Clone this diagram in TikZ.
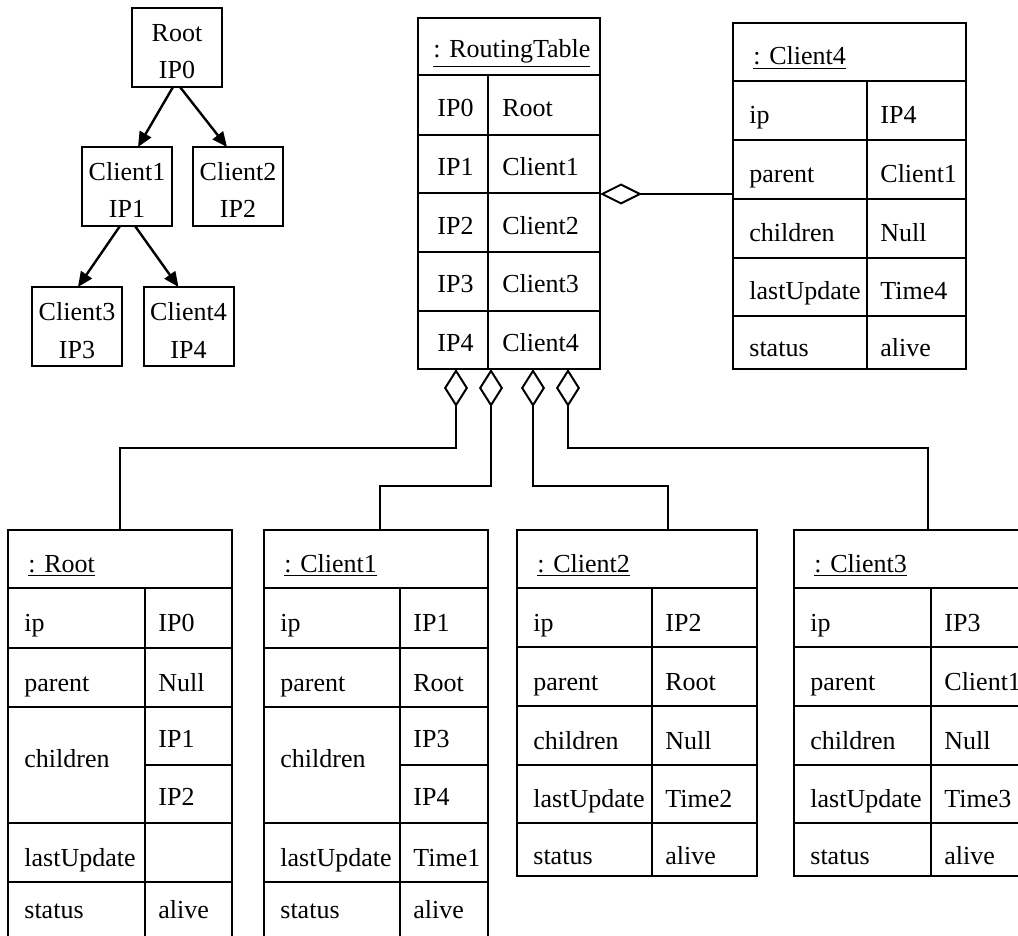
\documentclass[tikz,border=0pt]{standalone}
\usepackage{fontspec}
\setmainfont{Liberation Serif}
\usetikzlibrary{arrows.meta,calc}

\tikzset{
  txt/.style={anchor=base west, inner sep=0pt, font=\fontsize{13}{15}\selectfont},
  ctxt/.style={anchor=base, inner sep=0pt, font=\fontsize{13}{15}\selectfont},
  frame/.style={draw, line width=0.8pt, anchor=north west, inner sep=0pt, outer sep=0pt},
  rule/.style={line width=0.8pt},
  treebox/.style={draw, line width=1pt, minimum width=45pt, minimum height=39.5pt,
                  inner sep=0pt, outer sep=0pt},
  treearrow/.style={line width=1.2pt, -{Triangle[length=7.5pt,width=6.5pt]}},
  aggv/.style={line width=0.8pt, {Diamond[open,length=19pt,width=12pt,line width=1pt]}-},
  aggh/.style={line width=0.8pt, {Diamond[open,length=21pt,width=10.5pt,line width=1pt]}-},
}

% object with five one-line attributes
% #1 name, #2 left, #3 divider, #4 right, #5 top, #6 title, #7 ip, #8 parent, #9 time
\newcommand\simpleobj[9]{%
  \begin{scope}[shift={(#2,#5)}]
    \pgfmathsetmacro\ww{#4-#2}\pgfmathsetmacro\dd{#3-#2}
    \node[frame, minimum width=\ww*0.5pt, minimum height=173pt] (#1) at (0,0) {};
    \foreach \yy in {58,117,176,235,293} \draw[rule] (0,\yy) -- (\ww,\yy);
    \draw[rule] (\dd,58) -- (\dd,346);
    \node[txt] at (20,42) {\underline{#6}};
    \node[txt] at (16,101) {ip};          \node[txt] at (\dd+13,101) {#7};
    \node[txt] at (16,160) {parent};      \node[txt] at (\dd+13,160) {#8};
    \node[txt] at (16,219) {children};    \node[txt] at (\dd+13,219) {Null};
    \node[txt] at (16,277) {lastUpdate};  \node[txt] at (\dd+13,277) {#9};
    \node[txt] at (16,334) {status};      \node[txt] at (\dd+13,334) {alive};
  \end{scope}}

% object whose children attribute holds two entries
% #1 name, #2 left, #3 divider, #4 right, #5 top, #6 title, #7 ip, #8 parent, #9 first child
\newcommand\splitobj[9]{%
  \begin{scope}[shift={(#2,#5)}]
    \pgfmathsetmacro\ww{#4-#2}\pgfmathsetmacro\dd{#3-#2}
    \node[frame, minimum width=\ww*0.5pt, minimum height=203.5pt] (#1) at (0,0) {};
    \foreach \yy in {58,118,177,293,352} \draw[rule] (0,\yy) -- (\ww,\yy);
    \draw[rule] (\dd,235) -- (\ww,235);
    \draw[rule] (\dd,58) -- (\dd,407);
    \node[txt] at (20,42) {\underline{#6}};
    \node[txt] at (16,101) {ip};          \node[txt] at (\dd+13,101) {#7};
    \node[txt] at (16,161) {parent};      \node[txt] at (\dd+13,161) {#8};
    \node[txt] at (16,237) {children};    \node[txt] at (\dd+13,217) {#9};
    \node[txt] at (16,336) {lastUpdate};
    \node[txt] at (16,388) {status};      \node[txt] at (\dd+13,388) {alive};
  \end{scope}}

\begin{document}
\begin{tikzpicture}[x=0.5pt,y=-0.5pt]
  \useasboundingbox (0,0) rectangle (1018,936);
  \clip (0,0) rectangle (1018,936);

  % ---- tree of clients ----
  \node[treebox] (t0) at (177,47.5) {};
  \node[treebox] (t1) at (127,186.5) {};
  \node[treebox] (t2) at (238,186.5) {};
  \node[treebox] (t3) at (77,326.5) {};
  \node[treebox] (t4) at (188.5,326.5) {};
  \foreach \n/\a/\b in {t0/Root/IP0, t1/Client1/IP1, t2/Client2/IP2,
                        t3/Client3/IP3, t4/Client4/IP4} {
    \node[ctxt] (\n-name) at ($(\n.north)+(0,34)$) {\a};
    \node[ctxt] (\n-ip)   at ($(\n.north)+(0,71)$) {\b};
  }
  \draw[treearrow] ($(t0.south)+(-4,0)$) -- ($(t1.north)+(11,0)$);
  \draw[treearrow] ($(t0.south)+(3,0)$)  -- ($(t2.north)+(-11,0)$);
  \draw[treearrow] ($(t1.south)+(-7,0)$) -- ($(t3.north)+(1,0)$);
  \draw[treearrow] ($(t1.south)+(8,0)$)  -- ($(t4.north)+(-10,0)$);

  % ---- routing table ----
  \node[frame, minimum width=91pt, minimum height=175.5pt] (rt) at (418,18) {};
  \foreach \yy in {75,135,193,252,311} \draw[rule] (418,\yy) -- (600,\yy);
  \draw[rule] (488,75) -- (488,369);
  \node[txt] (rt-title) at (433,58) {\underline{: RoutingTable}};
  \foreach \k/\v/\yy in {0/Root/117, 1/Client1/176, 2/Client2/235,
                         3/Client3/293, 4/Client4/352} {
    \node[txt] (rt-ip\k) at (437,\yy) {IP\k};
    \node[txt] (rt-v\k)  at (502,\yy) {\v};
  }

  % ---- client objects ----
  \simpleobj{c4obj}{733}{867}{966}{23}{: Client4}{IP4}{Client1}{Time4}
  \splitobj{robj}{8}{145}{232}{530}{: Root}{IP0}{Null}{IP1}
  \node[txt] (robj-c2) at (158,805) {IP2};
  \splitobj{c1obj}{264}{400}{488}{530}{: Client1}{IP1}{Root}{IP3}
  \node[txt] (c1obj-c2) at (413,805) {IP4};
  \node[txt] (c1obj-t) at (413,866) {Time1};
  \simpleobj{c2obj}{517}{652}{757}{530}{: Client2}{IP2}{Root}{Time2}
  \simpleobj{c3obj}{794}{931}{1030}{530}{: Client3}{IP3}{Client1}{Time3}

  % ---- aggregations ----
  \coordinate (a1) at ($(rt.south west)+(38,0)$);
  \coordinate (a2) at ($(rt.south west)+(73,0)$);
  \coordinate (a3) at ($(rt.south west)+(115,0)$);
  \coordinate (a4) at ($(rt.south west)+(150,0)$);
  \coordinate (a5) at ($(rt.north east)+(0,176)$);
  \draw[aggv] (a1) -- ++(0,79)  -| (robj.north);
  \draw[aggv] (a2) -- ++(0,117) -| ($(c1obj.north)+(4,0)$);
  \draw[aggv] (a3) -- ++(0,117) -| ($(c2obj.north west)+(151,0)$);
  \draw[aggv] (a4) -- ++(0,79)  -| ($(c3obj.north west)+(134,0)$);
  \draw[aggh] (a5) -- (a5 -| c4obj.west);
\end{tikzpicture}
\end{document}
